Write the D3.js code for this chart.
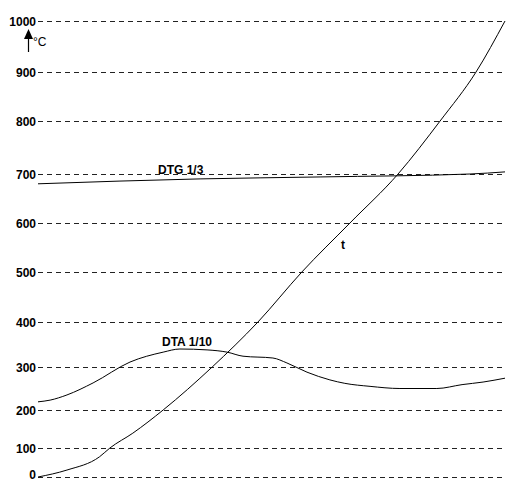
<!DOCTYPE html>
<html>
<head>
<meta charset="utf-8">
<script src="https://cdn.jsdelivr.net/npm/d3@7"></script>
<style>
  body { margin: 0; background: #fff; }
  svg text { font-family: "Liberation Sans", Arial, sans-serif; font-weight: bold; fill: #000; }
</style>
</head>
<body>
<div id="chart"></div>
<script>
// Temperature tick labels (the axis is not evenly spaced in the picture)
var tempTicks = [0, 100, 200, 300, 400, 500, 600, 700, 800, 900, 1000];

// Time axis has no labels, use 0..100 as relative time
var tTime  = [0, 6.2, 13.2, 15.4, 20.3, 26.8, 37.3, 47.1, 56.5, 66.8, 77.1, 86.1, 93.8, 100];
var tValue = [0, 24, 70, 100, 139, 200, 300, 400, 500, 600, 700, 800, 900, 1000];

var dtgTime  = [0, 34.7, 60.4, 92.5, 100];
var dtgValue = [680, 690, 694, 700, 704];

var dtaTime  = [0, 2.6, 6.2, 11.8, 19.7, 26.8, 30.4, 36.2, 40.5, 43.9, 50.3, 53.3, 57.6, 62.5, 65.7, 71.1, 77.5, 85.4, 90.8, 95.3, 100];
var dtaValue = [219, 223, 235, 263, 311, 333, 340, 338, 333, 324, 320, 309, 288, 270, 262, 255, 250, 250, 259, 265, 274];

// Set the dimensions of the graph
var width = 507, height = 483;

var svg = d3.select("#chart")
.append("svg")
  .attr("width", width)
  .attr("height", height);

svg.append("rect").attr("width", width).attr("height", height).attr("fill", "#fff");

var x = d3.scaleLinear()
  .domain([0, 100])
  .range([38, 505]);

// piecewise scale, the lower part of the axis is compressed
var y = d3.scaleLinear()
  .domain(tempTicks)
  .range([477, 448, 410, 367, 322, 272, 223, 174, 121, 72, 21]);

// Dashed grid lines
svg.selectAll(".grid")
  .data(tempTicks)
  .enter().append("line")
    .attr("class", "grid")
    .attr("x1", x(0))
    .attr("x2", x(100))
    .attr("y1", function(d) { return y(d) + 0.5; })
    .attr("y2", function(d) { return y(d) + 0.5; })
    .style("stroke", "#222")
    .style("stroke-width", 1)
    .style("stroke-dasharray", "5,4");

// Tick labels
svg.selectAll(".tick-label")
  .data(tempTicks)
  .enter().append("text")
    .attr("class", "tick-label")
    .attr("x", 36)
    .attr("y", function(d) { return Math.min(y(d), 474); })
    .attr("dy", "0.38em")
    .style("text-anchor", "end")
    .style("font-size", "12px")
    .text(function(d) { return d; });

// Unit arrow
svg.append("line")
  .attr("x1", 28.5).attr("x2", 28.5)
  .attr("y1", 52).attr("y2", 36)
  .style("stroke", "#000")
  .style("stroke-width", 1.2);
svg.append("path")
  .attr("d", "M24,39 L28.5,29 L33,39 Z")
  .style("fill", "#000");
svg.append("text")
  .attr("x", 33).attr("y", 46)
  .style("font-size", "12px")
  .style("font-weight", "normal")
  .text("°C");

function makeLine(times, values) {
  return d3.line()
    .x(function(d, i) { return x(times[i]); })
    .y(function(d) { return y(d); })
    .curve(d3.curveMonotoneX)(values);
}

var curves = [[tTime, tValue], [dtgTime, dtgValue], [dtaTime, dtaValue]];
svg.selectAll(".curve")
  .data(curves)
  .enter().append("path")
    .attr("class", "curve")
    .attr("d", function(d) { return makeLine(d[0], d[1]); })
    .style("fill", "none")
    .style("stroke", "#000")
    .style("stroke-width", 1);

// Curve labels
svg.append("text").attr("x", 158).attr("y", 174).style("font-size", "12px").text("DTG 1/3");
svg.append("text").attr("x", 162).attr("y", 346).style("font-size", "12px").text("DTA 1/10");
svg.append("text").attr("x", 341).attr("y", 249).style("font-size", "12px").text("t");
</script>
</body>
</html>
